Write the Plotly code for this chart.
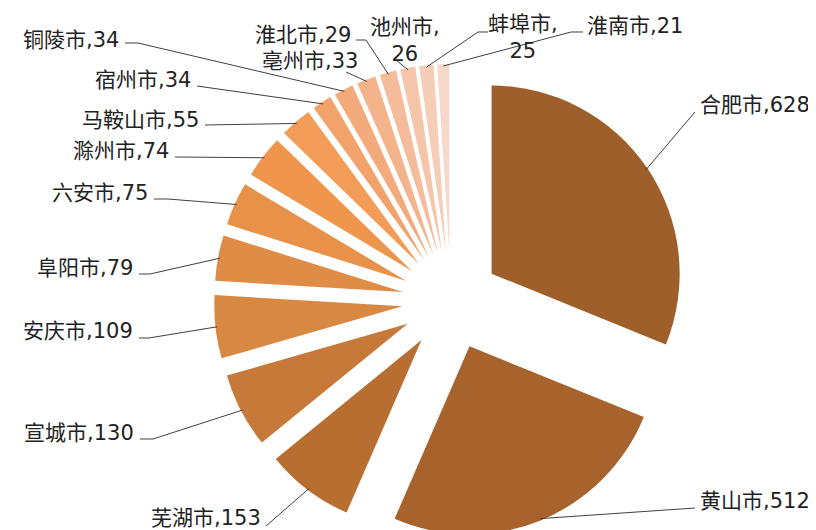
import plotly.graph_objects as go
import numpy as np

# ---- data ----
cities = ["合肥市", "黄山市", "芜湖市", "宣城市", "安庆市", "阜阳市", "六安市", "滁州市",
          "马鞍山市", "宿州市", "铜陵市", "亳州市", "淮北市", "池州市", "蚌埠市", "淮南市"]
values = [628, 512, 153, 130, 109, 79, 75, 74, 55, 34, 34, 33, 29, 26, 25, 21]

# ---- styles ----
colors = ["#9E5F2A", "#A8632C", "#B96E31", "#C77939", "#D78842", "#DF8D46", "#E89249",
          "#EF964C", "#F29C58", "#F2A36C", "#F3AB7C", "#F3B38B", "#F4BC9A", "#F5C5AA",
          "#F6CEB8", "#F8D8C8"]

W, H = 816, 530
CX, CY = 443, 293          # pie centre (px)
RT = 237                   # outer extent incl. pull (px)
PULL = 0.26
R = RT / (1 + PULL)

FONT = dict(family="DejaVu Sans, Noto Sans CJK SC", size=21, color="#222222")
LINE = dict(color="#404040", width=1)

# label layout: text position (px), anchor, leader path start points (px)
label_layout = {
    "合肥市": dict(x=690, y=97, xa="left", path=[(687, 104)]),
    "黄山市": dict(x=690, y=493, xa="left", path=[(687, 500)]),
    "芜湖市": dict(x=255, y=510, xa="right", path=[(258, 518)]),
    "宣城市": dict(x=128, y=425, xa="right", path=[(132, 431), (145, 431)]),
    "安庆市": dict(x=127, y=323, xa="right", path=[(131, 330), (141, 330)]),
    "阜阳市": dict(x=127, y=260, xa="right", path=[(131, 266), (142, 266)]),
    "六安市": dict(x=142, y=185, xa="right", path=[(146, 191), (160, 191)]),
    "滁州市": dict(x=163, y=143, xa="right", path=[(167, 149)]),
    "马鞍山市": dict(x=193, y=112, xa="right", path=[(197, 117)]),
    "宿州市": dict(x=185, y=72, xa="right", path=[(189, 78)]),
    "铜陵市": dict(x=113, y=32, xa="right", path=[(117, 35), (130, 35)]),
    "亳州市": dict(x=352, y=53, xa="right", path=[(338, 64)]),
    "淮北市": dict(x=345, y=27, xa="right", path=[(348, 32), (358, 32)]),
    "池州市": dict(x=397, y=33, xa="center", path=[(388, 52)], wrap=True),
    "蚌埠市": dict(x=515, y=30, xa="center", path=[(480, 24), (470, 24)], wrap=True),
    "淮南市": dict(x=577, y=18, xa="left", path=[(575, 24), (563, 24)]),
}

fig = go.Figure(go.Pie(
    labels=cities,
    values=values,
    sort=False,
    direction="clockwise",
    rotation=0,
    pull=[PULL] * len(values),
    marker=dict(colors=colors, line=dict(width=0)),
    textinfo="none",
    hoverinfo="label+value",
    showlegend=False,
    domain=dict(x=[(CX - 300) / W, (CX + 300) / W], y=[0, 2 * RT / H]),
))

def px2paper(x, y):
    return x / W, 1 - y / H

# anchors on slice arcs, computed from data
vals = np.array(values, dtype=float)
cum = np.cumsum(vals)
mid_frac = (cum - vals / 2) / vals.sum()
theta = 2 * np.pi * mid_frac
ra = R * PULL + R * 0.99

annotations = []
shapes = []
for i, city in enumerate(cities):
    lay = label_layout[city]
    sep = ",<br>" if lay.get("wrap") else ","
    text = f"{city}{sep}{values[i]}"
    xp, yp = px2paper(lay["x"], lay["y"])
    annotations.append(dict(
        x=xp, y=yp, xref="paper", yref="paper", text=text, showarrow=False,
        xanchor=lay["xa"], yanchor="middle", align="center", font=FONT,
    ))
    ax = CX + ra * np.sin(theta[i])
    ay = CY - ra * np.cos(theta[i])
    pts = lay["path"] + [(ax, ay)]
    d = "M " + " L ".join(f"{px2paper(x, y)[0]:.5f},{px2paper(x, y)[1]:.5f}" for x, y in pts)
    shapes.append(dict(type="path", path=d, xref="paper", yref="paper", line=LINE))

fig.update_layout(
    width=W, height=H,
    margin=dict(l=0, r=0, t=0, b=0),
    paper_bgcolor="white",
    plot_bgcolor="white",
    annotations=annotations,
    shapes=shapes,
)

fig.write_html("out.html")
